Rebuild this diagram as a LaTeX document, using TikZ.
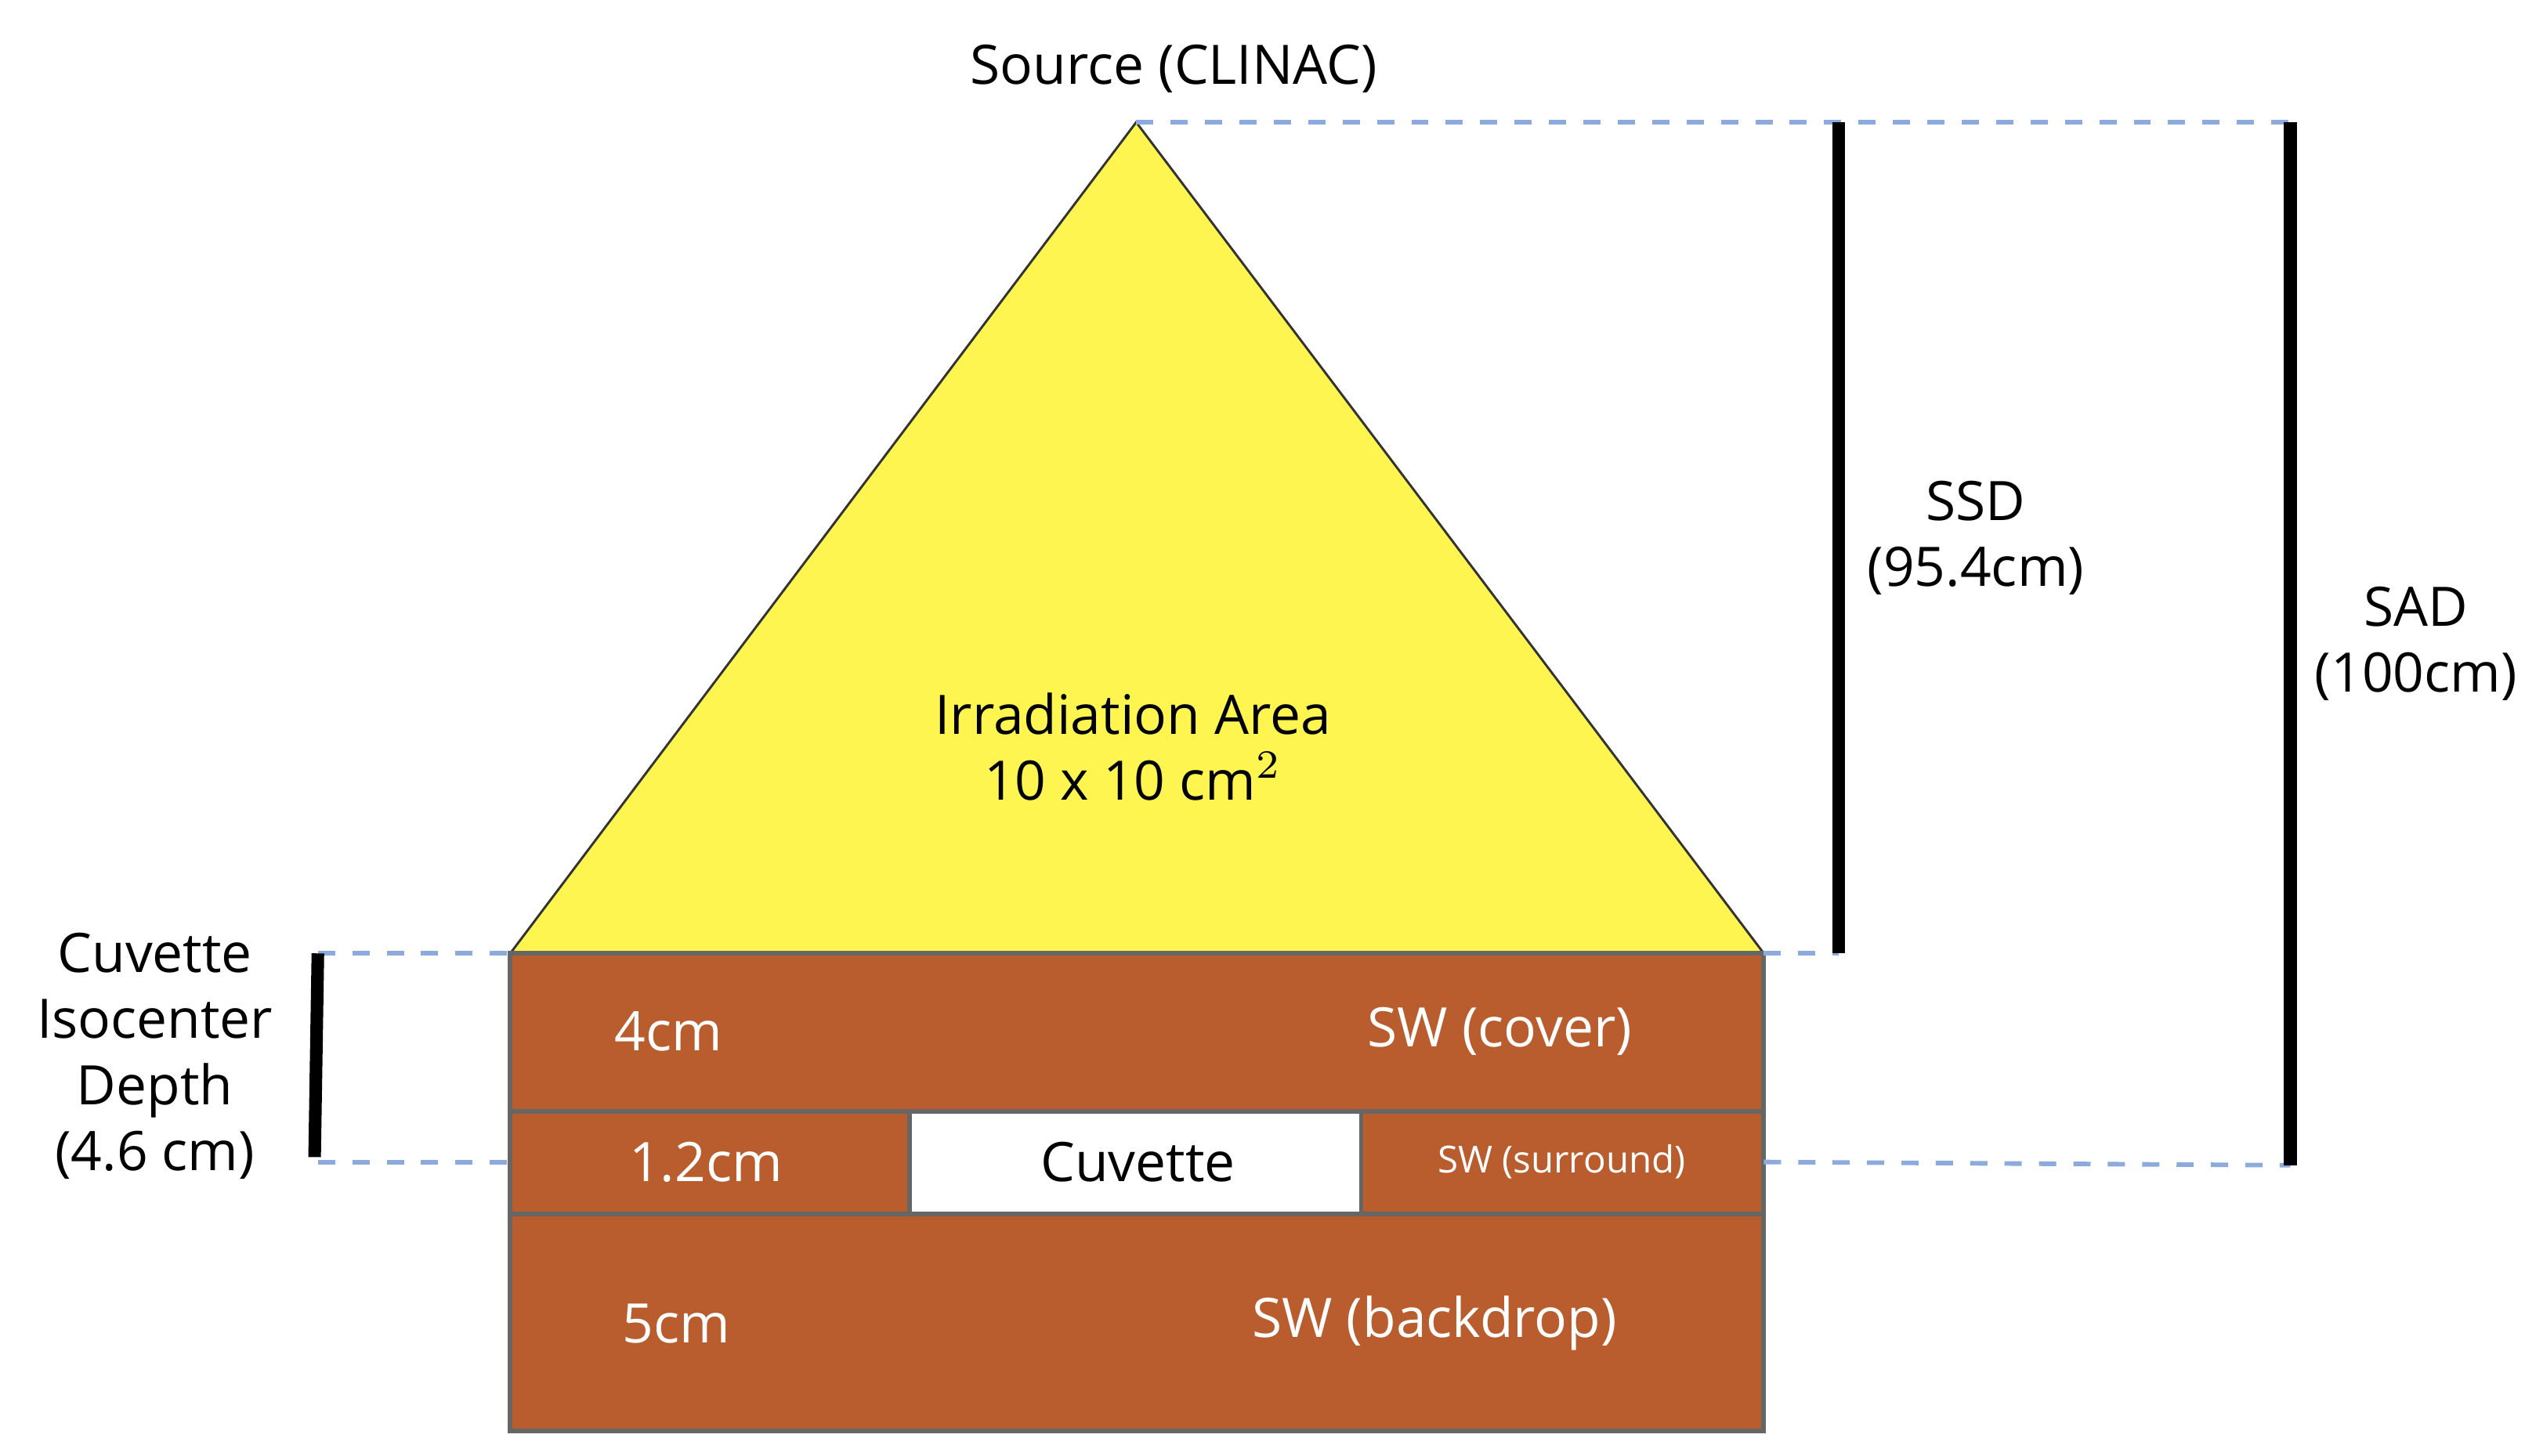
\documentclass[tikz,border=0pt]{standalone}
\usepackage{fontspec}
\setmainfont{Open Sans}
\usetikzlibrary{positioning}
\definecolor{beam}{RGB}{255,245,80}
\definecolor{water}{RGB}{185,92,46}
\definecolor{guideblue}{RGB}{140,170,220}
\tikzset{
  lbl/.style   ={font=\fontsize{9.5}{11.5}\selectfont, align=center},
  inlbl/.style ={lbl, text=white},
  guide/.style ={guideblue, thick, dashed},
  bar/.style   ={line width=2.2pt},
  slab/.style  ={fill=water, draw=black!60, thick},
}
\begin{document}
\begin{tikzpicture}[x=0.01cm,y=-0.01cm]
  \useasboundingbox (0,0) rectangle (1560,893);

  % beam
  \coordinate (src) at (697,75);
  \coordinate (bl) at (313,585);
  \coordinate (br) at (1082,585);
  \fill[beam] (src) -- (bl) -- (br) -- cycle;
  \draw[black!80] (bl) -- (src) -- (br);
  \node[lbl] (source) at (720,42) {Source (CLINAC)};
  \node[lbl] (area) at (695,458) {Irradiation Area\\10 x 10 cm$^2$};

  % phantom
  \draw[slab] (313,585) rectangle (1082,682);
  \draw[slab] (313,682) rectangle (1082,745);
  \draw[slab] (313,745) rectangle (1082,878);
  \draw[fill=white, draw=black!60, thick] (558,682) rectangle (835,745);
  \node[inlbl] (top) at (410,633) {4cm};
  \node[inlbl] (cover) at (920,633) {SW (cover)};
  \node[inlbl] (mid) at (433,713) {1.2cm};
  \node[lbl] (cuv) at (698,713) {Cuvette};
  \node[inlbl, font=\fontsize{6.5}{8}\selectfont] (sur) at (958,713) {SW (surround)};
  \node[inlbl] (bot) at (415,812) {5cm};
  \node[inlbl] (back) at (880,812) {SW (backdrop)};

  % guides
  \coordinate (ssdt) at (1128,75);
  \coordinate (ssdb) at (1128,585);
  \coordinate (sadt) at (1405,75);
  \coordinate (sadb) at (1405,715);
  \coordinate (dept) at (195,585);
  \coordinate (depb) at (195,713);
  \coordinate (iso) at (1082,713);
  \draw[guide] (src) -- (sadt);
  \draw[guide] (br) -- (ssdb);
  \draw[guide] (dept) -- (bl);
  \draw[guide] (depb) -- (313,713);
  \draw[guide] (iso) -- (sadb);

  % bars
  \draw[bar] (ssdt) -- (ssdb);
  \draw[bar] (sadt) -- (sadb);
  \draw[bar] (dept) -- (193,710);
  \node[lbl] (ssd) at (1212,330) {SSD\\(95.4cm)};
  \node[lbl] (sad) at (1482,395) {SAD\\(100cm)};
  \node[lbl] (depth) at (95,648) {Cuvette\\Isocenter\\Depth\\(4.6 cm)};
\end{tikzpicture}
\end{document}
